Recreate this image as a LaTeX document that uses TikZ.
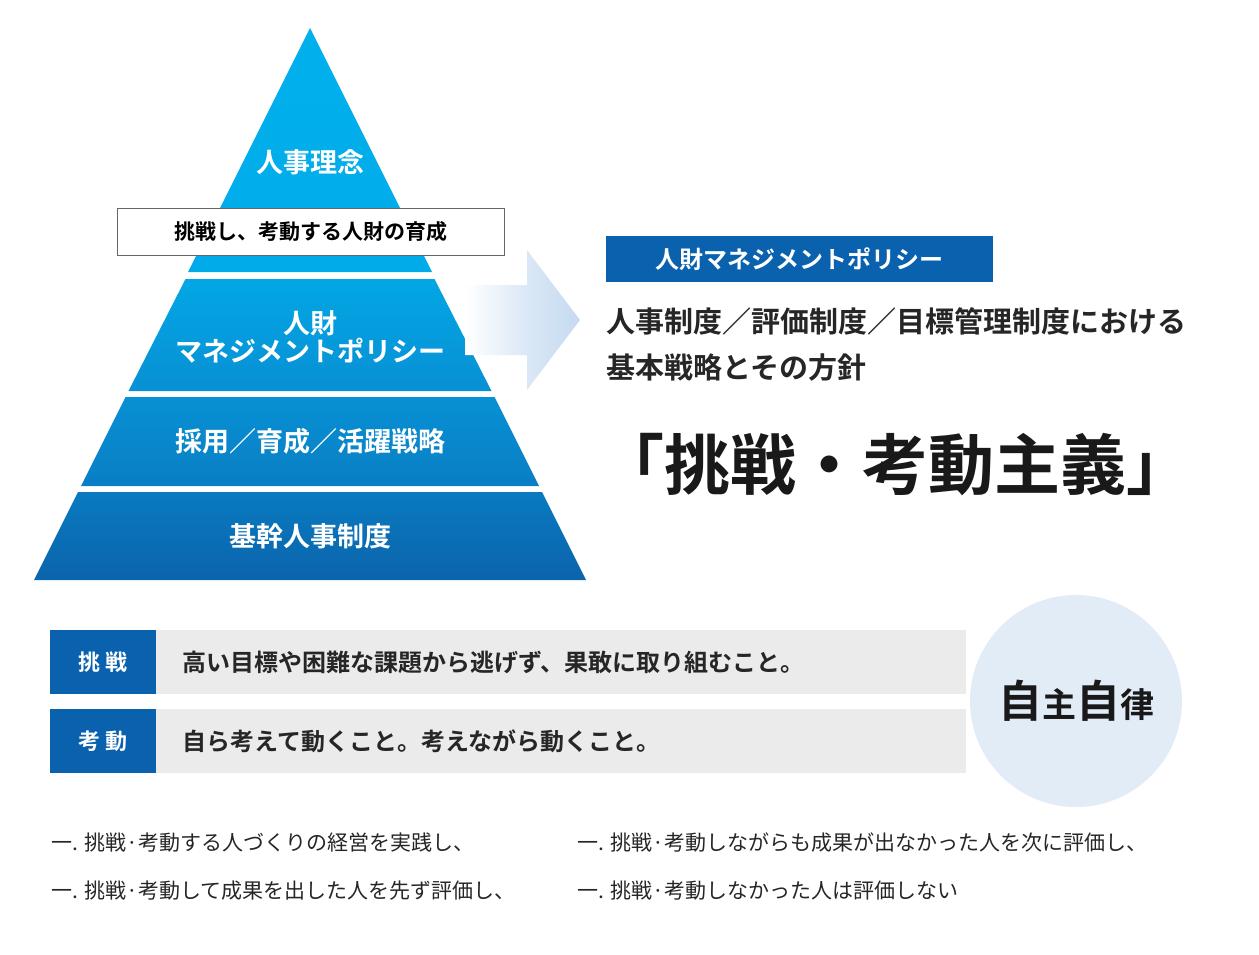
\documentclass[tikz,border=0pt]{standalone}
\usepackage{fontspec}
\setmainfont{Noto Sans CJK JP}
\newfontfamily\jpb{Noto Sans CJK JP Bold}
\usetikzlibrary{positioning}
\definecolor{pyrtop}{HTML}{00B0EC}
\definecolor{pyrmid}{HTML}{0890D4}
\definecolor{pyrbot}{HTML}{0B64AC}
\definecolor{navy}{HTML}{0A62AE}
\definecolor{barg}{HTML}{EBEBEB}
\definecolor{circ}{HTML}{E2ECF7}
\definecolor{arr}{HTML}{C5DAF1}
\tikzset{
 band/.style={draw=none},
 wt/.style={text=white,font=\jpb\fontsize{27}{32}\selectfont,align=center},
 tag/.style={fill=navy,text=white,font=\jpb\fontsize{22}{26}\selectfont,minimum width=106pt,minimum height=64pt,inner sep=0},
 bar/.style={fill=barg,anchor=west,minimum height=64pt,inner sep=0,text width=810pt,align=left,font=\jpb\fontsize{24}{28}\selectfont,text=black!85},
 small/.style={anchor=west,font=\fontsize{21}{24}\selectfont,text=black!85},
}
\begin{document}
\begin{tikzpicture}[x=1pt,y=-1pt]
\useasboundingbox (0,0) rectangle (1259,954);
% pyramid
\shade[top color=pyrtop,bottom color=pyrtop!85!pyrmid] (310,28) -- (432,272) -- (188,272) -- cycle;
\shade[top color=pyrtop!70!pyrmid,bottom color=pyrmid] (185.5,279) -- (434.5,279) -- (491.5,391) -- (128.5,391) -- cycle;
\shade[top color=pyrmid,bottom color=pyrmid!60!pyrbot] (125.5,397) -- (494.5,397) -- (539,486) -- (81,486) -- cycle;
\shade[top color=pyrmid!50!pyrbot,bottom color=pyrbot] (78,492) -- (542,492) -- (586,580) -- (34,580) -- cycle;
\node[wt] (t1) at (310,162) {人事理念};
\node[draw=black!60,fill=white,minimum width=387pt,minimum height=47pt,inner sep=0,font=\jpb\fontsize{21}{24}\selectfont] (box) at (310.5,231.5) {挑戦し、考動する人財の育成};
\node[wt] (t2) at (310,337) {人財\\[-4pt]マネジメントポリシー};
\node[wt] (t3) at (310,441) {採用／育成／活躍戦略};
\node[wt] (t4) at (310,536) {基幹人事制度};
% arrow
\shade[left color=white,right color=arr,middle color=arr!60] (465,285) -- (527,285) -- (527,250) -- (580,320) -- (527,390) -- (527,355) -- (465,355) -- cycle;
% right text
\node[fill=navy,text=white,minimum width=387pt,minimum height=46pt,inner sep=0,font=\jpb\fontsize{24}{28}\selectfont] (pol) at (799.5,259) {人財マネジメントポリシー};
\node[anchor=west,font=\jpb\fontsize{29}{34}\selectfont,text=black!85,inner sep=0] (l1) at (606,321) {人事制度／評価制度／目標管理制度における};
\node[anchor=west,font=\jpb\fontsize{29}{34}\selectfont,text=black!85,inner sep=0] (l2) at (606,368) {基本戦略とその方針};
\node[anchor=west,font=\jpb\fontsize{66}{70}\selectfont,text=black!90,inner sep=0] (big) at (598,465) {「挑戦・考動主義」};
% bars
\node[bar] (b1) at (156,662) {\hspace{26pt}高い目標や困難な課題から逃げず、果敢に取り組むこと。};
\node[bar] (b2) at (156,741) {\hspace{26pt}自ら考えて動くこと。考えながら動くこと。};
\node[tag] (g1) at (103,662) {挑 戦};
\node[tag] (g2) at (103,741) {考 動};
\node[circle,fill=circ,minimum size=212pt,inner sep=0,font=\jpb\fontsize{44}{48}\selectfont,text=black!90] (c) at (1076,701) {自{\fontsize{34}{38}\selectfont 主}自{\fontsize{34}{38}\selectfont 律}};
% bottom
\node[small] (s1) at (48,843) {一. 挑戦·考動する人づくりの経営を実践し、};
\node[small] (s2) at (48,891) {一. 挑戦·考動して成果を出した人を先ず評価し、};
\node[small] (s3) at (574,843) {一. 挑戦·考動しながらも成果が出なかった人を次に評価し、};
\node[small] (s4) at (574,891) {一. 挑戦·考動しなかった人は評価しない};
\end{tikzpicture}
\end{document}
